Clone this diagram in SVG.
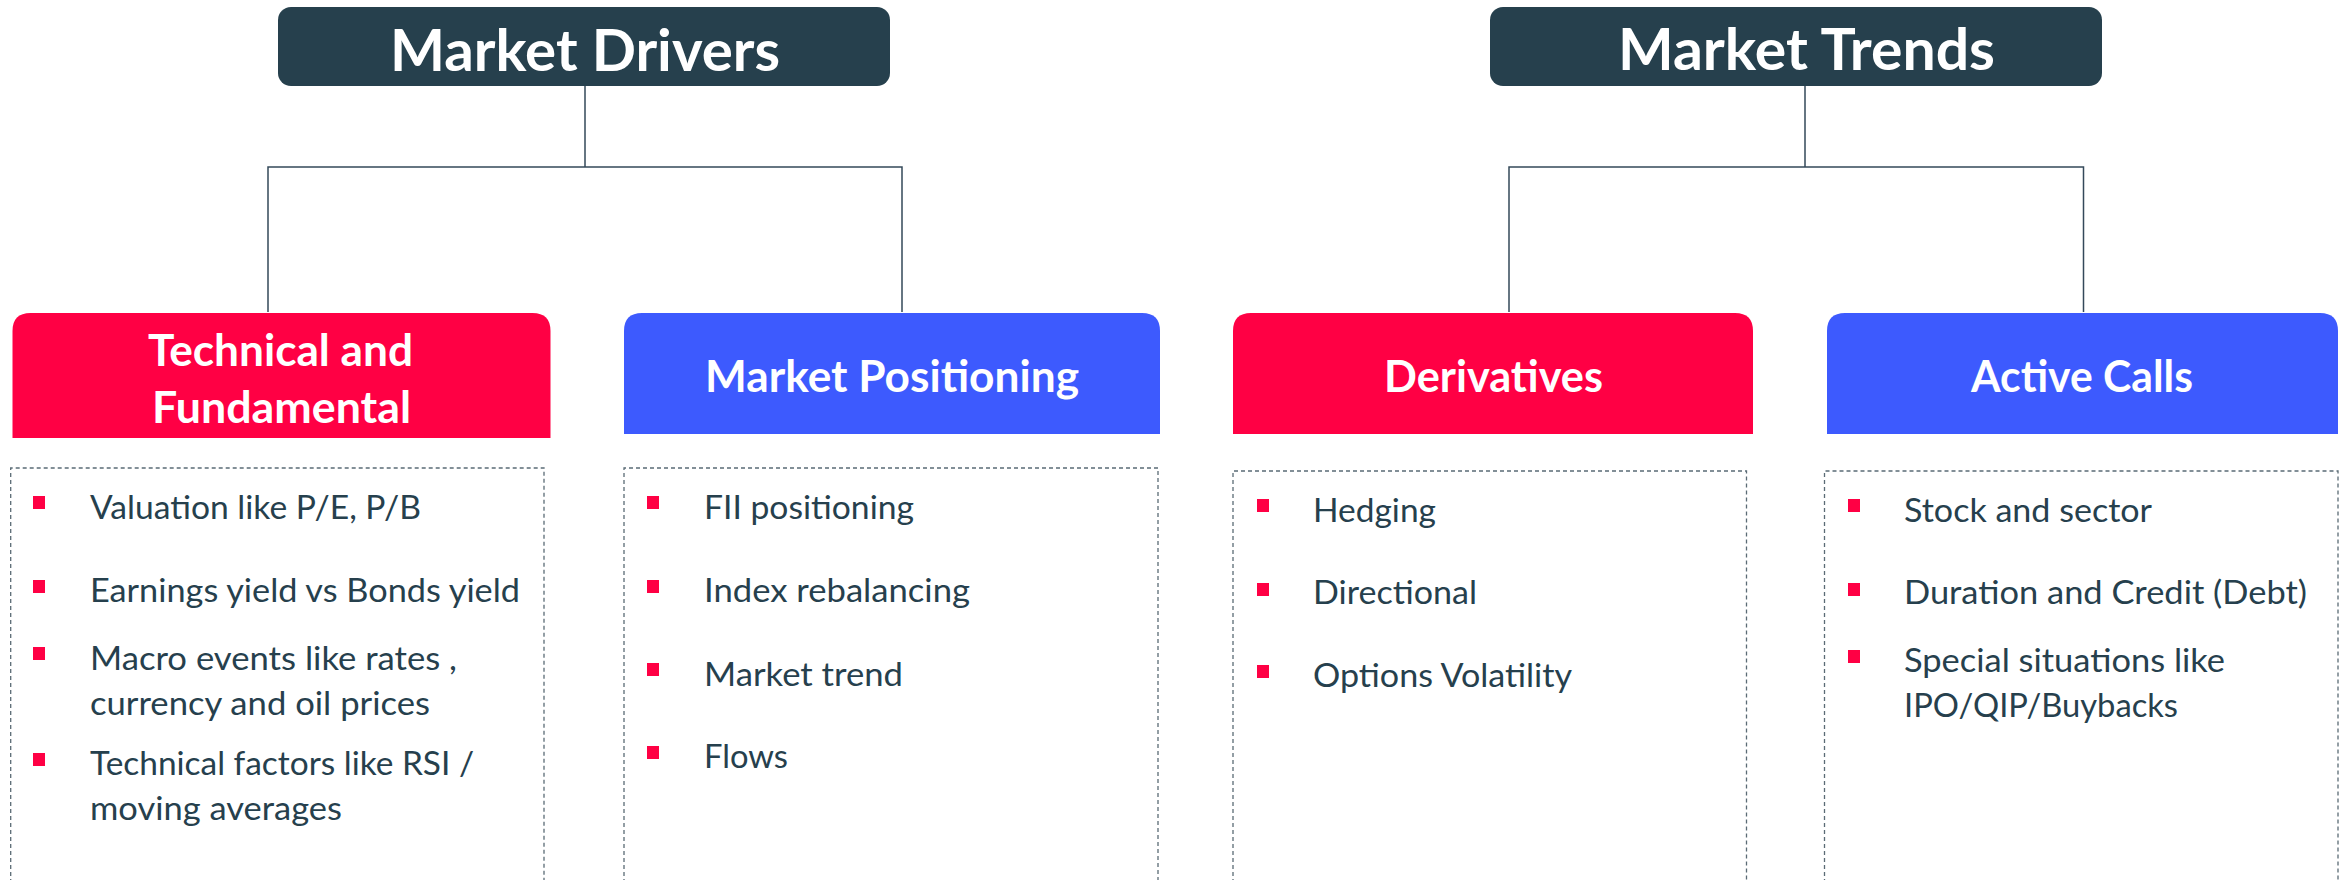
<svg xmlns="http://www.w3.org/2000/svg" width="2344" height="880" viewBox="0 0 2344 880">
<style>
.top{fill:#26404D}
.red{fill:#FF0044}
.blue{fill:#3D5AFE}
.h1{font-family:Lato,"Open Sans","Liberation Sans",sans-serif;font-weight:bold;font-size:57px;fill:#FFFFFF}
.h2{font-family:Lato,"Open Sans","Liberation Sans",sans-serif;font-weight:bold;font-size:43px;fill:#FFFFFF}
.t{font-family:Lato,"Open Sans","Liberation Sans",sans-serif;font-size:32px;fill:#26404D}
.box{fill:none;stroke:#5A6B75;stroke-width:1.3;stroke-dasharray:4 3}
.bul{fill:#FF0044}
.conn{fill:none;stroke:#34495A;stroke-width:1.5}
</style>
<rect width="2344" height="880" fill="#FFFFFF"/>
<g id="connectors">
<path class="conn" d="M585 86 V167 M268 312 V167 H902 V312"/>
<path class="conn" d="M1805 86 V167 M1509 312 V167 H2083.5 V312"/>
</g>
<g id="market-drivers">
<rect class="top" x="278" y="7" width="612" height="79" rx="13"/>
<text class="h1" x="390" y="71" textLength="390" lengthAdjust="spacingAndGlyphs">Market Drivers</text>
</g>
<g id="market-trends">
<rect class="top" x="1490" y="7" width="612" height="79" rx="13"/>
<text class="h1" x="1618" y="70" textLength="377" lengthAdjust="spacingAndGlyphs">Market Trends</text>
</g>
<g id="technical-fundamental">
<path class="red" d="M12.5 438 V331 Q12.5 313 30.5 313 H532.5 Q550.5 313 550.5 331 V438 Z"/>
<text class="h2" x="148" y="366" textLength="265" lengthAdjust="spacingAndGlyphs">Technical and</text>
<text class="h2" x="152" y="423" textLength="259" lengthAdjust="spacingAndGlyphs">Fundamental</text>
</g>
<g id="market-positioning">
<path class="blue" d="M624 434 V331 Q624 313 642 313 H1142 Q1160 313 1160 331 V434 Z"/>
<text class="h2" x="705" y="392" textLength="374" lengthAdjust="spacingAndGlyphs">Market Positioning</text>
</g>
<g id="derivatives">
<path class="red" d="M1233 434 V331 Q1233 313 1251 313 H1735 Q1753 313 1753 331 V434 Z"/>
<text class="h2" x="1384" y="392" textLength="219" lengthAdjust="spacingAndGlyphs">Derivatives</text>
</g>
<g id="active-calls">
<path class="blue" d="M1827 434 V331 Q1827 313 1845 313 H2320 Q2338 313 2338 331 V434 Z"/>
<text class="h2" x="1971" y="392" textLength="222" lengthAdjust="spacingAndGlyphs">Active Calls</text>
</g>
<g id="list-technical">
<path class="box" d="M10.7 890 V468 H544 V890"/>
<rect class="bul" x="33" y="496" width="12" height="13"/>
<text class="t" x="90" y="519" textLength="331" lengthAdjust="spacingAndGlyphs">Valuation like P/E, P/B</text>
<rect class="bul" x="33" y="580" width="12" height="13"/>
<text class="t" x="90" y="602" textLength="430" lengthAdjust="spacingAndGlyphs">Earnings yield vs Bonds yield</text>
<rect class="bul" x="33" y="647" width="12" height="13"/>
<text class="t" x="90" y="670" textLength="367" lengthAdjust="spacingAndGlyphs">Macro events like rates ,</text>
<text class="t" x="90" y="715" textLength="340" lengthAdjust="spacingAndGlyphs">currency and oil prices</text>
<rect class="bul" x="33" y="753" width="12" height="13"/>
<text class="t" x="90" y="775" textLength="384" lengthAdjust="spacingAndGlyphs">Technical factors like RSI /</text>
<text class="t" x="90" y="820" textLength="252" lengthAdjust="spacingAndGlyphs">moving averages</text>
</g>
<g id="list-positioning">
<path class="box" d="M624 890 V468 H1158 V890"/>
<rect class="bul" x="647" y="496" width="12" height="13"/>
<text class="t" x="704" y="519" textLength="210" lengthAdjust="spacingAndGlyphs">FII positioning</text>
<rect class="bul" x="647" y="580" width="12" height="13"/>
<text class="t" x="704" y="602" textLength="266" lengthAdjust="spacingAndGlyphs">Index rebalancing</text>
<rect class="bul" x="647" y="663" width="12" height="13"/>
<text class="t" x="704" y="686" textLength="199" lengthAdjust="spacingAndGlyphs">Market trend</text>
<rect class="bul" x="647" y="746" width="12" height="13"/>
<text class="t" x="704" y="768" textLength="84" lengthAdjust="spacingAndGlyphs">Flows</text>
</g>
<g id="list-derivatives">
<path class="box" d="M1233 890 V471 H1746.5 V890"/>
<rect class="bul" x="1257" y="499" width="12" height="13"/>
<text class="t" x="1313" y="522" textLength="123" lengthAdjust="spacingAndGlyphs">Hedging</text>
<rect class="bul" x="1257" y="583" width="12" height="13"/>
<text class="t" x="1313" y="604" textLength="164" lengthAdjust="spacingAndGlyphs">Directional</text>
<rect class="bul" x="1257" y="665" width="12" height="13"/>
<text class="t" x="1313" y="687" textLength="259" lengthAdjust="spacingAndGlyphs">Options Volatility</text>
</g>
<g id="list-active-calls">
<path class="box" d="M1824.5 890 V471 H2338 V890"/>
<rect class="bul" x="1848" y="499" width="12" height="13"/>
<text class="t" x="1904" y="522" textLength="248" lengthAdjust="spacingAndGlyphs">Stock and sector</text>
<rect class="bul" x="1848" y="583" width="12" height="13"/>
<text class="t" x="1904" y="604" textLength="403" lengthAdjust="spacingAndGlyphs">Duration and Credit (Debt)</text>
<rect class="bul" x="1848" y="650" width="12" height="13"/>
<text class="t" x="1904" y="672" textLength="321" lengthAdjust="spacingAndGlyphs">Special situations like</text>
<text class="t" x="1904" y="717" textLength="274" lengthAdjust="spacingAndGlyphs">IPO/QIP/Buybacks</text>
</g>
</svg>
